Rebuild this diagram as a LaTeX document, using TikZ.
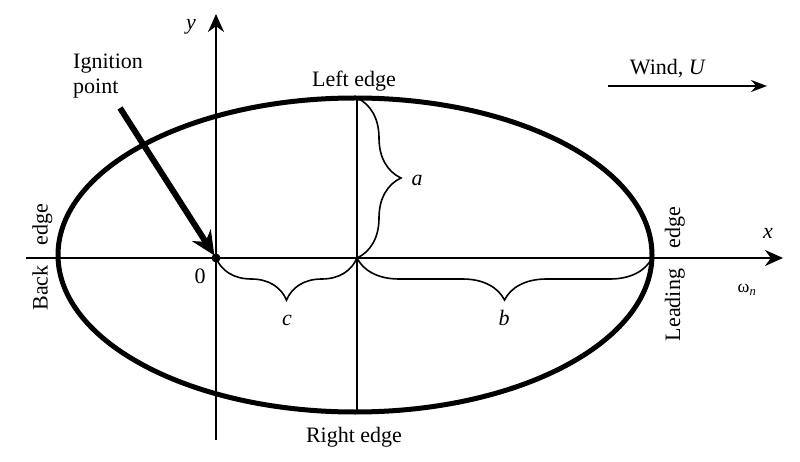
\documentclass[tikz,border=0pt]{standalone}
\usepackage{fontspec}
\setmainfont{Liberation Serif}
\usetikzlibrary{arrows.meta,decorations.pathreplacing}
\begin{document}
\begin{tikzpicture}[x=1pt,y=-1pt,
  lbl/.style={font=\fontsize{22}{26}\selectfont, inner sep=0pt},
  axisline/.style={line width=2.5pt, -{Stealth[length=18pt,width=16pt]}},
  brc/.style={decorate, decoration={brace, amplitude=#1}, line width=1.6pt},
]
\useasboundingbox[fill=white] (0,0) rectangle (800,462);
% key points
\coordinate (O) at (216,258);
\coordinate (xs) at (26,258);
\coordinate (xe) at (783,258);
\coordinate (ys) at (216,440);
\coordinate (ye) at (216,14);
\coordinate (C) at (355,255);
\coordinate (T) at (357,98);
\coordinate (B) at (357,411);
\coordinate (M) at (357,258);
\coordinate (L) at (652,258);
\coordinate (I1) at (120,108);
\coordinate (W1) at (608,86);
\coordinate (W2) at (767,86);
% axes
\draw[axisline] (xs) -- (xe);
\draw[axisline] (ys) -- (ye);
% ellipse
\draw[line width=5pt] (C) ellipse [x radius=297pt, y radius=157pt];
% vertical line
\draw[line width=1.6pt] (T) -- (B);
% braces
\draw[brc=44pt] (T) -- (M);
\draw[brc=42pt] (M) -- (O);
\draw[brc=42pt] (L) -- (M);
% origin dot
\fill (O) circle (4.5pt);
% ignition arrow
\draw[line width=6pt, -{Stealth[length=24pt,width=22pt]}, shorten >=3pt] (I1) -- (O);
% wind arrow
\draw[line width=2pt, -{Stealth[length=16pt,width=12pt]}] (W1) -- (W2);
% labels
\node[lbl, anchor=base] (lefte) at (354,87) {Left edge};
\node[lbl, anchor=base] (righte) at (354,442) {Right edge};
\node[lbl, anchor=base west] (ign1) at (73,69) {Ignition};
\node[lbl, anchor=base west] (ign2) at (73,94) {point};
\node[lbl, anchor=base] (wind) at (668,75) {Wind, \textit{U}};
\node[lbl] (ya) at (191,27) {\textit{y}};
\node[lbl] (xa) at (768,233) {\textit{x}};
\node[lbl] (zero) at (200,276) {0};
\node[lbl] (la) at (417,180) {\textit{a}};
\node[lbl] (lb) at (504,318) {\textit{b}};
\node[lbl] (lc) at (287,320) {\textit{c}};
\node[lbl, font=\fontsize{18}{20}\selectfont] (om) at (747,290) {ω\textsubscript{\textit{n}}};
\node[lbl, rotate=90, anchor=base] (back) at (47.5,288) {Back};
\node[lbl, rotate=90, anchor=base] (bedge) at (47.5,225) {edge};
\node[lbl, rotate=90, anchor=base] (lead) at (680,305) {Leading};
\node[lbl, rotate=90, anchor=base] (ledge) at (680,228) {edge};
\end{tikzpicture}
\end{document}
